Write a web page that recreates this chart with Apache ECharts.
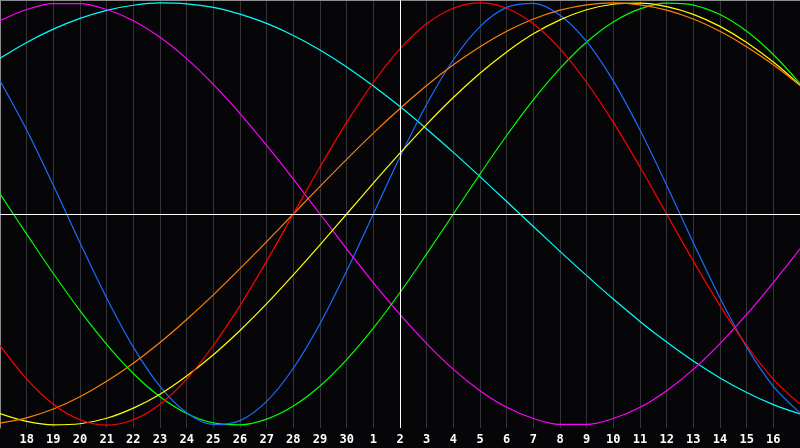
<!DOCTYPE html>
<html>
<head>
<meta charset="utf-8">
<script src="https://cdn.jsdelivr.net/npm/echarts@6/dist/echarts.min.js"></script>
<style>
html,body{margin:0;padding:0;background:#060608;}
#chart{width:800px;height:448px;}
</style>
</head>
<body>
<div id="chart"></div>
<script>
// Day labels (first and last are the edges, not labelled)
const days = ['17','18','19','20','21','22','23','24','25','26','27','28','29','30','1','2','3','4','5','6','7','8','9','10','11','12','13','14','15','16','17'];

// Curves, one value per day (range -1..1)
const blue    = [0.631,0.398,0.136,-0.136,-0.398,-0.631,-0.817,-0.942,-0.998,-0.979,-0.888,-0.731,-0.520,-0.270,0,0.270,0.520,0.731,0.888,0.979,0.998,0.942,0.817,0.631,0.398,0.136,-0.136,-0.398,-0.631,-0.817,-0.942];
const red     = [-0.623,-0.782,-0.901,-0.975,-1,-0.975,-0.901,-0.782,-0.623,-0.434,-0.223,0,0.223,0.434,0.623,0.782,0.901,0.975,1,0.975,0.901,0.782,0.623,0.434,0.223,0,-0.223,-0.434,-0.623,-0.782,-0.901];
const green   = [0.095,-0.095,-0.282,-0.458,-0.618,-0.756,-0.866,-0.945,-0.990,-0.999,-0.972,-0.910,-0.815,-0.690,-0.541,-0.372,-0.189,0,0.189,0.372,0.541,0.690,0.815,0.910,0.972,0.999,0.990,0.945,0.866,0.756,0.618];
const magenta = [0.916,0.969,0.997,0.997,0.969,0.916,0.837,0.736,0.614,0.476,0.325,0.165,0,-0.165,-0.325,-0.476,-0.614,-0.736,-0.837,-0.916,-0.969,-0.997,-0.997,-0.969,-0.916,-0.837,-0.736,-0.614,-0.476,-0.325,-0.165];
const yellow  = [-0.946,-0.983,-0.999,-0.994,-0.968,-0.920,-0.854,-0.768,-0.667,-0.552,-0.425,-0.288,-0.146,0,0.146,0.288,0.425,0.552,0.667,0.768,0.854,0.920,0.968,0.994,0.999,0.983,0.946,0.889,0.813,0.720,0.611];
const orange  = [-0.991,-0.966,-0.924,-0.866,-0.793,-0.707,-0.609,-0.5,-0.383,-0.259,-0.131,0,0.131,0.259,0.383,0.5,0.609,0.707,0.793,0.866,0.924,0.966,0.991,1,0.991,0.966,0.924,0.866,0.793,0.707,0.609];
const cyan    = [0.738,0.813,0.876,0.927,0.965,0.989,1.000,0.996,0.979,0.947,0.903,0.846,0.777,0.697,0.607,0.509,0.403,0.292,0.177,0.059,-0.059,-0.177,-0.292,-0.403,-0.509,-0.607,-0.697,-0.777,-0.846,-0.903,-0.947];

const todayIndex = 15;

const curves = [
  {name:'cyan', data:cyan, color:'#00ffff'},
  {name:'magenta', data:magenta, color:'#ff00ff'},
  {name:'green', data:green, color:'#00ff00'},
  {name:'blue', data:blue, color:'#1a6cff'},
  {name:'yellow', data:yellow, color:'#ffff00'},
  {name:'orange', data:orange, color:'#ff8000'},
  {name:'red', data:red, color:'#ff0000'}
];

const chart = echarts.init(document.getElementById('chart'), null, {renderer:'canvas'});
const series = curves.map(c => ({
  name: c.name, type: 'line', data: c.data, smooth: 0.34, showSymbol: false,
  lineStyle: {color: c.color, width: 1.2}, itemStyle: {color: c.color},
  z: 3, animation: false
}));
series.push({
  type: 'line', data: [], silent: true, animation: false,
  markLine: {
    silent: true, symbol: 'none', label: {show: false},
    lineStyle: {color: '#ffffff', width: 1, type: 'solid'},
    data: [{yAxis: 0}, {xAxis: todayIndex}]
  },
  z: 2
});

chart.setOption({
  backgroundColor: '#060608',
  animation: false,
  grid: {left: 0, right: 0, top: 0, bottom: 20, containLabel: false, outerBoundsMode: 'none'},
  xAxis: [{
    type: 'category', data: days, boundaryGap: false,
    axisLine: {show: true, lineStyle: {color: '#8c8c8c', width: 1}},
    axisTick: {show: false},
    splitLine: {show: true, interval: 0, lineStyle: {color: '#333338', width: 1}},
    axisLabel: {
      interval: 0, margin: 6, color: '#ffffff', fontWeight: 'bold', fontSize: 12,
      fontFamily: 'DejaVu Sans Mono',
      formatter: (v, i) => (i === 0 || i === days.length - 1) ? '' : v
    }
  }, {
    type: 'category', data: days, boundaryGap: false, position: 'top',
    axisLine: {show: true, lineStyle: {color: '#8c8c8c', width: 1}},
    axisTick: {show: false}, axisLabel: {show: false}, splitLine: {show: false}
  }],
  yAxis: {
    type: 'value', min: -1.014, max: 1.014,
    axisLine: {show: true, lineStyle: {color: '#8c8c8c'}},
    axisTick: {show: false}, axisLabel: {show: false}, splitLine: {show: false}
  },
  series: series
});
</script>
</body>
</html>
